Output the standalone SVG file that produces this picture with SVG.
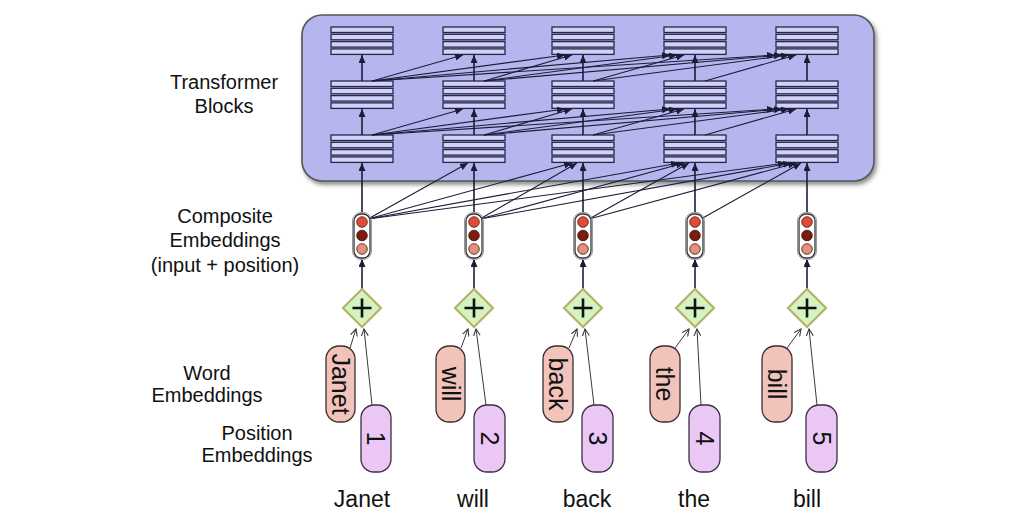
<svg xmlns="http://www.w3.org/2000/svg" width="1024" height="525" viewBox="0 0 1024 525">
<style>
.lbl{font-family:"Liberation Sans",Arial,sans-serif;font-size:20px;fill:#111;text-anchor:middle}
.word{font-family:"Liberation Sans",Arial,sans-serif;font-size:23px;fill:#111;text-anchor:middle}
.pt{font-family:"Liberation Sans",Arial,sans-serif;font-size:25px;fill:#111;text-anchor:middle;dominant-baseline:central}
.stripe{fill:#d2d2f8;stroke:#26264a;stroke-width:1.3}
.ln{stroke:#1c1c38;stroke-width:1.1;fill:none;marker-end:url(#ah)}
.vln{stroke:#1c1c38;stroke-width:1.6;fill:none;marker-end:url(#ah)}
.thin{stroke:#3a3a3a;stroke-width:1;fill:none;marker-end:url(#oh)}
.wpill{fill:#f1c3bb;stroke:#3a2e2e;stroke-width:1.3}
.ppill{fill:#ebc7f5;stroke:#3a2e40;stroke-width:1.3}
.comp{fill:#fff;stroke:#333;stroke-width:1.3}
.comp0{fill:none;stroke:#999;stroke-width:1}
.c1{fill:#e04a38;stroke:#4a1a14;stroke-width:0.8}
.c2{fill:#7a1c12;stroke:#3a0a06;stroke-width:0.8}
.c3{fill:#e0907c;stroke:#4a1a14;stroke-width:0.8}
.dia{fill:#d5f2c2;stroke:#b3b466;stroke-width:2.2}
.plus{stroke:#111;stroke-width:2.6}
</style>
<defs>
<marker id="ah" markerUnits="userSpaceOnUse" markerWidth="8" markerHeight="7" refX="8" refY="3.5" orient="auto"><path d="M0,0 L8,3.5 L0,7 z" fill="#1c1c38"/></marker>
<marker id="oh" markerUnits="userSpaceOnUse" markerWidth="8" markerHeight="8" refX="7" refY="4" orient="auto"><path d="M0,0.5 L7,4 L0,7.5" fill="none" stroke="#3a3a3a" stroke-width="1.1"/></marker>
<filter id="sh" x="-5%" y="-10%" width="110%" height="125%"><feDropShadow dx="2" dy="3" stdDeviation="2" flood-color="#000" flood-opacity="0.45"/></filter>
<g id="blk">
<rect class="stripe" x="-31" y="0" width="62" height="5.5"/>
<rect class="stripe" x="-31" y="7.3" width="62" height="5.5"/>
<rect class="stripe" x="-31" y="14.6" width="62" height="5.5"/>
<rect class="stripe" x="-31" y="21.9" width="62" height="5.5"/>
</g>
</defs>
<rect width="1024" height="525" fill="#fff"/>

<g id="transformer">
<rect x="302" y="15" width="572" height="166" rx="20" fill="#b6b6ef" stroke="#555" stroke-width="1.6" filter="url(#sh)"/>
<use href="#blk" x="362" y="27"/><use href="#blk" x="474" y="27"/><use href="#blk" x="583" y="27"/><use href="#blk" x="695" y="27"/><use href="#blk" x="807" y="27"/>
<use href="#blk" x="362" y="81"/><use href="#blk" x="474" y="81"/><use href="#blk" x="583" y="81"/><use href="#blk" x="695" y="81"/><use href="#blk" x="807" y="81"/>
<use href="#blk" x="362" y="135"/><use href="#blk" x="474" y="135"/><use href="#blk" x="583" y="135"/><use href="#blk" x="695" y="135"/><use href="#blk" x="807" y="135"/>
</g>

<g id="labels">
<text class="lbl" x="224" y="89">Transformer</text>
<text class="lbl" x="224" y="113">Blocks</text>
<text class="lbl" x="225" y="223">Composite</text>
<text class="lbl" x="225" y="247">Embeddings</text>
<text class="lbl" x="225" y="272">(input + position)</text>
<text class="lbl" x="207" y="380">Word</text>
<text class="lbl" x="207" y="402">Embeddings</text>
<text class="lbl" x="257" y="440">Position</text>
<text class="lbl" x="257" y="462">Embeddings</text>
</g>

<g id="connectors">
<line class="vln" x1="362" y1="81" x2="362" y2="55"/><line class="vln" x1="474" y1="81" x2="474" y2="55"/><line class="vln" x1="583" y1="81" x2="583" y2="55"/><line class="vln" x1="695" y1="81" x2="695" y2="55"/><line class="vln" x1="807" y1="81" x2="807" y2="55"/>
<line class="vln" x1="362" y1="135" x2="362" y2="109"/><line class="vln" x1="474" y1="135" x2="474" y2="109"/><line class="vln" x1="583" y1="135" x2="583" y2="109"/><line class="vln" x1="695" y1="135" x2="695" y2="109"/><line class="vln" x1="807" y1="135" x2="807" y2="109"/>
<line class="vln" x1="362" y1="213" x2="362" y2="163"/><line class="vln" x1="474" y1="213" x2="474" y2="163"/><line class="vln" x1="583" y1="213" x2="583" y2="163"/><line class="vln" x1="695" y1="213" x2="695" y2="163"/><line class="vln" x1="807" y1="213" x2="807" y2="163"/>
<line class="vln" x1="362" y1="289" x2="362" y2="259"/><line class="vln" x1="474" y1="289" x2="474" y2="259"/><line class="vln" x1="583" y1="289" x2="583" y2="259"/><line class="vln" x1="695" y1="289" x2="695" y2="259"/><line class="vln" x1="807" y1="289" x2="807" y2="259"/>
<line class="ln" x1="372" y1="81" x2="463" y2="55"/><line class="ln" x1="372" y1="81" x2="565" y2="55"/><line class="ln" x1="372" y1="81" x2="670" y2="55"/><line class="ln" x1="372" y1="81" x2="775" y2="55"/>
<line class="ln" x1="484" y1="81" x2="572" y2="55"/><line class="ln" x1="484" y1="81" x2="677" y2="55"/><line class="ln" x1="484" y1="81" x2="782" y2="55"/>
<line class="ln" x1="593" y1="81" x2="684" y2="55"/><line class="ln" x1="593" y1="81" x2="789" y2="55"/>
<line class="ln" x1="705" y1="81" x2="796" y2="55"/>
<line class="ln" x1="372" y1="135" x2="463" y2="109"/><line class="ln" x1="372" y1="135" x2="565" y2="109"/><line class="ln" x1="372" y1="135" x2="670" y2="109"/><line class="ln" x1="372" y1="135" x2="775" y2="109"/>
<line class="ln" x1="484" y1="135" x2="572" y2="109"/><line class="ln" x1="484" y1="135" x2="677" y2="109"/><line class="ln" x1="484" y1="135" x2="782" y2="109"/>
<line class="ln" x1="593" y1="135" x2="684" y2="109"/><line class="ln" x1="593" y1="135" x2="789" y2="109"/>
<line class="ln" x1="705" y1="135" x2="796" y2="109"/>
<line class="ln" x1="368" y1="219" x2="468" y2="163"/><line class="ln" x1="368" y1="219" x2="572" y2="163"/><line class="ln" x1="368" y1="219" x2="679" y2="163"/><line class="ln" x1="368" y1="219" x2="786" y2="163"/>
<line class="ln" x1="480" y1="219" x2="577" y2="163"/><line class="ln" x1="480" y1="219" x2="684" y2="163"/><line class="ln" x1="480" y1="219" x2="791" y2="163"/>
<line class="ln" x1="589" y1="219" x2="689" y2="163"/><line class="ln" x1="589" y1="219" x2="796" y2="163"/>
<line class="ln" x1="701" y1="219" x2="801" y2="163"/>
<line class="thin" x1="350" y1="348" x2="356" y2="329"/><line class="thin" x1="372" y1="405" x2="364" y2="329"/>
<line class="thin" x1="461" y1="348" x2="468" y2="329"/><line class="thin" x1="486" y1="405" x2="476" y2="329"/>
<line class="thin" x1="569" y1="348" x2="577" y2="329"/><line class="thin" x1="594" y1="405" x2="585" y2="329"/>
<line class="thin" x1="675" y1="348" x2="689" y2="329"/><line class="thin" x1="701" y1="405" x2="697" y2="329"/>
<line class="thin" x1="787" y1="348" x2="801" y2="329"/><line class="thin" x1="817" y1="405" x2="809" y2="329"/>
</g>

<g id="composite">
<g id="comp1"><rect class="comp0" x="352.5" y="212.5" width="19" height="47" rx="8.5"/><rect class="comp" x="354" y="214" width="16" height="44" rx="7"/><circle class="c1" cx="362" cy="222" r="5.3"/><circle class="c2" cx="362" cy="235.5" r="5.3"/><circle class="c3" cx="362" cy="249" r="5.3"/></g>
<g id="comp2"><rect class="comp0" x="464.5" y="212.5" width="19" height="47" rx="8.5"/><rect class="comp" x="466" y="214" width="16" height="44" rx="7"/><circle class="c1" cx="474" cy="222" r="5.3"/><circle class="c2" cx="474" cy="235.5" r="5.3"/><circle class="c3" cx="474" cy="249" r="5.3"/></g>
<g id="comp3"><rect class="comp0" x="573.5" y="212.5" width="19" height="47" rx="8.5"/><rect class="comp" x="575" y="214" width="16" height="44" rx="7"/><circle class="c1" cx="583" cy="222" r="5.3"/><circle class="c2" cx="583" cy="235.5" r="5.3"/><circle class="c3" cx="583" cy="249" r="5.3"/></g>
<g id="comp4"><rect class="comp0" x="685.5" y="212.5" width="19" height="47" rx="8.5"/><rect class="comp" x="687" y="214" width="16" height="44" rx="7"/><circle class="c1" cx="695" cy="222" r="5.3"/><circle class="c2" cx="695" cy="235.5" r="5.3"/><circle class="c3" cx="695" cy="249" r="5.3"/></g>
<g id="comp5"><rect class="comp0" x="797.5" y="212.5" width="19" height="47" rx="8.5"/><rect class="comp" x="799" y="214" width="16" height="44" rx="7"/><circle class="c1" cx="807" cy="222" r="5.3"/><circle class="c2" cx="807" cy="235.5" r="5.3"/><circle class="c3" cx="807" cy="249" r="5.3"/></g>
</g>

<g id="plus">
<g id="plus1"><path class="dia" d="M362,289 L381,308 L362,327 L343,308 z"/><path class="plus" d="M352.5,308 H371.5 M362,298.5 V317.5"/></g>
<g id="plus2"><path class="dia" d="M474,289 L493,308 L474,327 L455,308 z"/><path class="plus" d="M464.5,308 H483.5 M474,298.5 V317.5"/></g>
<g id="plus3"><path class="dia" d="M583,289 L602,308 L583,327 L564,308 z"/><path class="plus" d="M573.5,308 H592.5 M583,298.5 V317.5"/></g>
<g id="plus4"><path class="dia" d="M695,289 L714,308 L695,327 L676,308 z"/><path class="plus" d="M685.5,308 H704.5 M695,298.5 V317.5"/></g>
<g id="plus5"><path class="dia" d="M807,289 L826,308 L807,327 L788,308 z"/><path class="plus" d="M797.5,308 H816.5 M807,298.5 V317.5"/></g>
</g>

<g id="word-embeddings">
<g id="w1"><rect class="wpill" x="326" y="346" width="29" height="76" rx="13"/><text class="pt" transform="translate(340.5,384) rotate(90)">Janet</text></g>
<g id="w2"><rect class="wpill" x="436" y="346" width="29" height="76" rx="13"/><text class="pt" transform="translate(450.5,384) rotate(90)">will</text></g>
<g id="w3"><rect class="wpill" x="543" y="346" width="30" height="76" rx="13"/><text class="pt" transform="translate(558,384) rotate(90)">back</text></g>
<g id="w4"><rect class="wpill" x="650" y="346" width="30" height="76" rx="13"/><text class="pt" transform="translate(665,384) rotate(90)">the</text></g>
<g id="w5"><rect class="wpill" x="762" y="346" width="30" height="76" rx="13"/><text class="pt" transform="translate(777,384) rotate(90)">bill</text></g>
</g>

<g id="position-embeddings">
<g id="p1"><rect class="ppill" x="361" y="405" width="30" height="67" rx="13"/><text class="pt" transform="translate(376,438.5) rotate(90)">1</text></g>
<g id="p2"><rect class="ppill" x="474" y="405" width="31" height="67" rx="13"/><text class="pt" transform="translate(489.5,438.5) rotate(90)">2</text></g>
<g id="p3"><rect class="ppill" x="582" y="405" width="31" height="67" rx="13"/><text class="pt" transform="translate(597.5,438.5) rotate(90)">3</text></g>
<g id="p4"><rect class="ppill" x="689" y="405" width="31" height="67" rx="13"/><text class="pt" transform="translate(704.5,438.5) rotate(90)">4</text></g>
<g id="p5"><rect class="ppill" x="806" y="405" width="31" height="67" rx="13"/><text class="pt" transform="translate(821.5,438.5) rotate(90)">5</text></g>
</g>

<g id="words">
<text class="word" x="362" y="507">Janet</text>
<text class="word" x="473" y="507">will</text>
<text class="word" x="587" y="507">back</text>
<text class="word" x="694" y="507">the</text>
<text class="word" x="807" y="507">bill</text>
</g>
</svg>
